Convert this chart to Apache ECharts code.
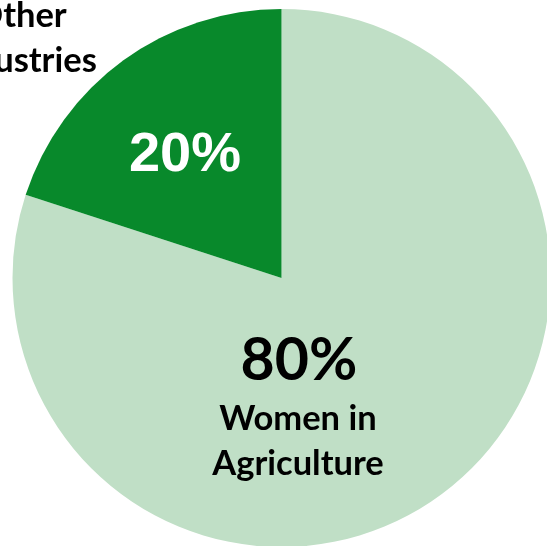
<!DOCTYPE html>
<html>
<head>
<meta charset="utf-8">
<script src="https://cdn.jsdelivr.net/npm/echarts@6/dist/echarts.min.js"></script>
<style>
  html, body { margin: 0; padding: 0; background: #ffffff; }
  #chart { width: 547px; height: 546px; }
</style>
</head>
<body>
<div id="chart"></div>
<script>
// Share of women's employment by sector
const categories = ['Women in Agriculture', 'Other Industries'];
const shares = [80, 20];
const nameLines = [['Women in', 'Agriculture'], ['Other', 'Industries']];
const sliceColors = ['#c0dfc6', '#08892b'];

const chart = echarts.init(document.getElementById('chart'), null, { renderer: 'canvas' });

const pieData = categories.map((c, i) => ({
  name: c,
  value: shares[i],
  itemStyle: { color: sliceColors[i] }
}));

// label anchor points for each slice: [percentage, name]
const pctPos = [[299, 361], [185, 156]];
const namePos = [[298, 441], [21, 38]];

const common = {
  type: 'pie',
  center: [281.5, 278],
  radius: 269,
  startAngle: 90,
  clockwise: true,
  animation: false,
  silent: true,
  labelLine: { show: false }
};

chart.setOption({
  backgroundColor: '#ffffff',
  series: [
    Object.assign({}, common, {
      data: pieData.map((d, i) => Object.assign({}, d, {
        label: i === 0
          ? { color: '#000000', fontFamily: 'Lato', fontWeight: 'bold', fontSize: 59 }
          : { color: '#ffffff', fontFamily: 'Liberation Sans', fontWeight: 'bold', fontSize: 56 }
      })),
      label: {
        show: true,
        position: 'inside',
        formatter: p => p.value + '%'
      },
      labelLayout: p => ({
        x: pctPos[p.dataIndex][0],
        y: pctPos[p.dataIndex][1],
        align: 'center',
        verticalAlign: 'middle'
      })
    }),
    Object.assign({}, common, {
      z: 3,
      data: pieData.map(d => Object.assign({}, d, { itemStyle: { color: 'rgba(0,0,0,0)' } })),
      label: {
        show: true,
        position: 'inside',
        color: '#000000',
        fontFamily: 'Lato',
        fontWeight: 'bold',
        fontSize: 34.5,
        lineHeight: 45,
        align: 'center',
        formatter: p => nameLines[p.dataIndex].join('\n')
      },
      labelLayout: p => ({
        x: namePos[p.dataIndex][0],
        y: namePos[p.dataIndex][1],
        align: 'center',
        verticalAlign: 'middle'
      })
    })
  ]
});
</script>
</body>
</html>
